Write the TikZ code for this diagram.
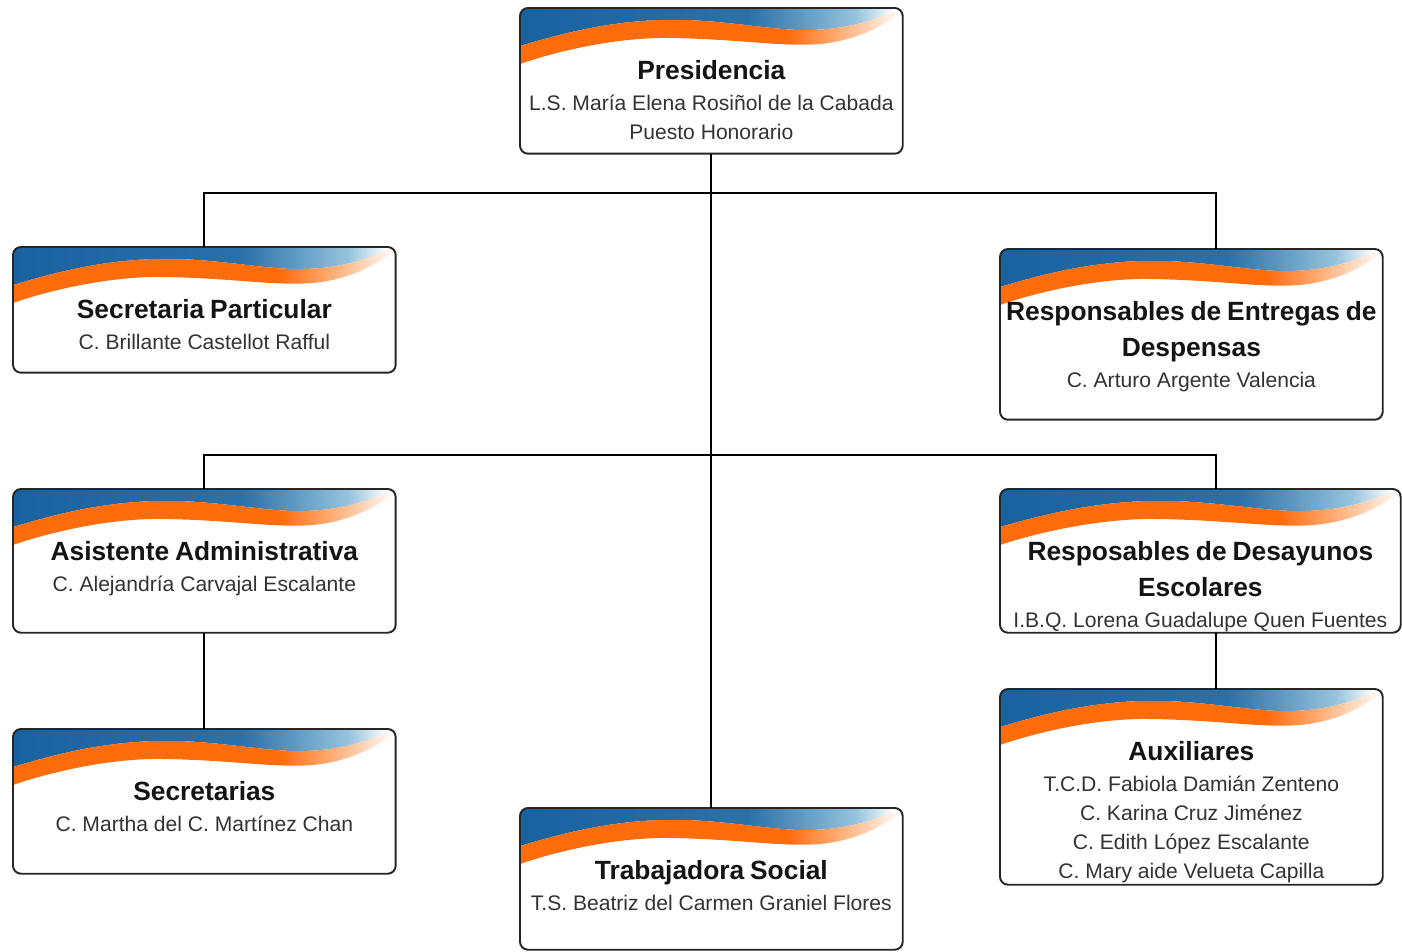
\documentclass[tikz,border=0pt]{standalone}
\usepackage{fontspec}
\setmainfont{Liberation Sans}

\definecolor{Wavedark}{RGB}{24,98,160}
\definecolor{Wavelight}{RGB}{150,196,222}
\definecolor{Waveorange}{RGB}{255,108,12}
\definecolor{Wavepeach}{RGB}{255,204,168}
\pgfdeclarehorizontalshading{bluewave}{100bp}{color(0bp)=(Wavedark); color(25bp)=(Wavedark);
  color(55bp)=(Wavedark!85!Wavelight); color(69bp)=(Wavelight); color(74bp)=(white); color(100bp)=(white)}
\pgfdeclarehorizontalshading{orangewave}{100bp}{color(0bp)=(Waveorange); color(25bp)=(Waveorange);
  color(60bp)=(Waveorange); color(70bp)=(Wavepeach); color(75bp)=(white); color(100bp)=(white)}

\newcommand{\unittitle}{\fontsize{15}{20.4}\selectfont\bfseries\color{black!92}}
\newcommand{\unitnames}{\fontsize{12}{16.6}\selectfont\mdseries\color{black!80}}

\newcommand{\drawunit}[7]{% Parameters: name, left, top, width, height, title, names
  \node[unitbox, minimum width=#4*0.02cm, minimum height=#5*0.02cm] (#1) at (#2,#3) {};
  \begin{scope}
    \clip[rounded corners=0.16cm] (#1.north west) rectangle (#1.south east);
    \begin{scope}[shift={(#1.north west)}, xscale=#4/382]
      \shade[shading=bluewave] (0,-4) -- (0,38) .. controls (40,26) and (85,14) .. (140,12)
        .. controls (200,10) and (250,23) .. (290,22) .. controls (330,21) and (355,12) .. (382,0)
        -- (382,-4) -- cycle;
      \shade[shading=orangewave] (0,38) .. controls (40,26) and (85,14) .. (140,12)
        .. controls (200,10) and (250,23) .. (290,22) .. controls (330,21) and (355,12) .. (382,0)
        -- (382,4) .. controls (365,16) and (340,32) .. (300,36) .. controls (260,39) and (220,31) .. (150,30)
        .. controls (100,29) and (40,42) .. (0,56) -- cycle;
    \end{scope}
  \end{scope}
  \draw[unitline] (#1.north west) rectangle (#1.south east);
  \node[unittext, text width=#4*0.02cm+0.4cm] (#1-txt) at ([yshift=-1.05cm]#1.north)
    {\unittitle #6\par\vspace{0.6pt}\unitnames #7\par};
}

\begin{document}
\begin{tikzpicture}[x=0.02cm, y=-0.02cm,
    unitbox/.style={rectangle, fill=white, inner sep=0pt, anchor=north west, rounded corners=0.16cm},
    unitline/.style={draw=black!85, line width=1.1pt, rounded corners=0.16cm},
    unittext/.style={anchor=north, inner sep=0pt, align=center},
    link/.style={draw=black, line width=1pt}]
  \useasboundingbox (0,0) rectangle (1402,951);
  \fill[white] (0,0) rectangle (1402,951);

  \drawunit{pres}{520}{8}{382}{145}{Presidencia}{L.S. María Elena Rosiñol de la Cabada\par Puesto Honorario}
  \drawunit{secp}{13}{247}{382}{125}{Secretaria Particular}{C. Brillante Castellot Rafful}
  \drawunit{entr}{1000}{249}{382}{170}{Responsables de Entregas de\par Despensas}{C. Arturo Argente Valencia}
  \drawunit{asis}{13}{489}{382}{143}{Asistente Administrativa}{C. Alejandría Carvajal Escalante}
  \drawunit{desa}{1000}{489}{400}{143}{Resposables de Desayunos\par Escolares}{I.B.Q. Lorena Guadalupe Quen Fuentes}
  \drawunit{auxi}{1000}{689}{382}{195}{Auxiliares}{T.C.D. Fabiola Damián Zenteno\par C. Karina Cruz Jiménez\par
    C. Edith López Escalante\par C. Mary aide Velueta Capilla}
  \drawunit{secr}{13}{729}{382}{144}{Secretarias}{C. Martha del C. Martínez Chan}
  \drawunit{trab}{520}{808}{382}{141}{Trabajadora Social}{T.S. Beatriz del Carmen Graniel Flores}

  \coordinate (bus1) at (711,193);
  \coordinate (bus2) at (711,455);
  \coordinate (rdrop) at (1216,0);
  \draw[link] (pres.south) -- (trab.north);
  \draw[link] (secp.north) |- (bus1) -| (rdrop |- entr.north);
  \draw[link] (asis.north) |- (bus2) -| (rdrop |- desa.north);
  \draw[link] (asis.south) -- (secr.north);
  \draw[link] (rdrop |- desa.south) -- (rdrop |- auxi.north);
\end{tikzpicture}
\end{document}
